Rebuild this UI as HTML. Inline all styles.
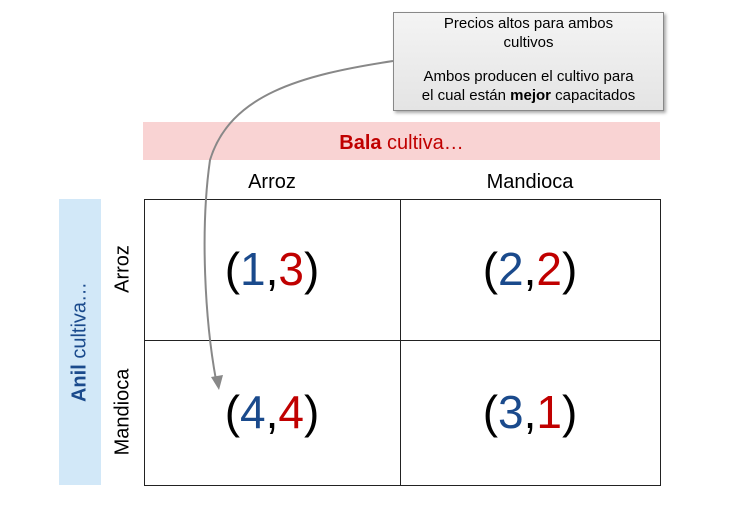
<!DOCTYPE html>
<html><head><meta charset="utf-8"><style>
body{margin:0;width:740px;height:512px;background:#fff;font-family:"Liberation Sans",sans-serif;position:relative;overflow:hidden}
.a{position:absolute}
.num{position:absolute;font-size:46px;text-align:center;width:256px}
.b{color:#1a4a8c}.r{color:#c00000}
</style></head><body>
<div class="a" style="left:393px;top:12px;width:271px;height:99px;background:linear-gradient(#f4f4f4,#e4e4e4);border:1px solid #888;box-shadow:2px 2px 3px #aaa;font-size:15px;text-align:center;line-height:19px;padding-top:1px;box-sizing:border-box">Precios altos para ambos<br>cultivos<br><div style="height:15px"></div>Ambos producen el cultivo para<br>el cual están <b>mejor</b> capacitados</div>
<div class="a" style="left:143px;top:122px;width:517px;height:38px;background:#f9d3d3;text-align:center;font-size:20px;line-height:42px;color:#c00000"><b>Bala</b> cultiva…</div>
<div class="a" style="left:144px;top:160px;width:256px;height:38px;text-align:center;font-size:20px;line-height:44px">Arroz</div>
<div class="a" style="left:400px;top:160px;width:260px;height:38px;text-align:center;font-size:20px;line-height:44px">Mandioca</div>
<div class="a" style="left:59px;top:199px;width:42px;height:286px;background:#d2e8f8"></div>
<div class="a" style="left:80px;top:342px;transform:translate(-50%,-50%) rotate(-90deg);white-space:nowrap;font-size:20px;color:#1a4a8c"><b>Anil</b> cultiva…</div>
<div class="a" style="left:123px;top:269px;transform:translate(-50%,-50%) rotate(-90deg);white-space:nowrap;font-size:20px">Arroz</div>
<div class="a" style="left:123px;top:412px;transform:translate(-50%,-50%) rotate(-90deg);white-space:nowrap;font-size:20px">Mandioca</div>
<div class="a" style="left:144px;top:199px;width:515px;height:285px;border:1px solid #222"></div>
<div class="a" style="left:400px;top:199px;width:1px;height:286px;background:#222"></div>
<div class="a" style="left:144px;top:340px;width:516px;height:1px;background:#222"></div>
<div class="num" style="left:144px;top:242px">(<span class="b">1</span>,<span class="r">3</span>)</div>
<div class="num" style="left:402px;top:242px">(<span class="b">2</span>,<span class="r">2</span>)</div>
<div class="num" style="left:144px;top:385px">(<span class="b">4</span>,<span class="r">4</span>)</div>
<div class="num" style="left:402px;top:385px">(<span class="b">3</span>,<span class="r">1</span>)</div>
<svg class="a" style="left:0;top:0" width="740" height="512">
<path d="M393,61 C300,75 230,95 210,160 C200,230 205,320 216,380" fill="none" stroke="#888" stroke-width="2"/>
<polygon points="211,377 223,375 219,390" fill="#888"/>
</svg>
</body></html>
